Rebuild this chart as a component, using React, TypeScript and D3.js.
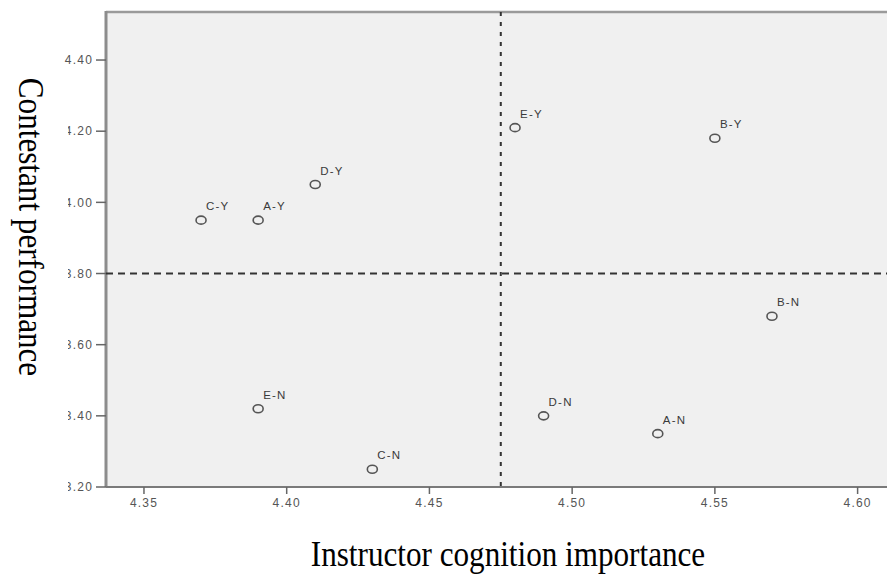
import React from 'react';
import * as d3 from 'd3';

const pointLabels = ['C-Y', 'A-Y', 'D-Y', 'E-Y', 'B-Y', 'B-N', 'E-N', 'C-N', 'D-N', 'A-N'];
const xValues = [4.37, 4.39, 4.41, 4.48, 4.55, 4.57, 4.39, 4.43, 4.49, 4.53];
const yValues = [3.95, 3.95, 4.05, 4.21, 4.18, 3.68, 3.42, 3.25, 3.40, 3.35];
const xTicks = [4.35, 4.40, 4.45, 4.50, 4.55, 4.60];
const yTicks = [3.20, 3.40, 3.60, 3.80, 4.00, 4.20, 4.40];
const refLineX = 4.475;
const refLineY = 3.80;
const xTitle = 'Instructor cognition importance';
const yTitle = 'Contestant performance';

const W = 887;
const H = 578;
const left = 106;
const right = 897;
const top = 12;
const bottom = 487;

export default function App() {
  const x = d3.scaleLinear().domain([4.3367, 4.6138]).range([left, right]);
  const y = d3.scaleLinear().domain([3.2, 4.535]).range([bottom, top]);
  const fmt = d3.format('.2f');
  const tickFont = { fontFamily: 'Arial, "Liberation Sans", sans-serif', fontSize: 12, letterSpacing: 1.2 };
  const titleFont = { fontFamily: '"Liberation Serif", "Times New Roman", serif', fontSize: 35 };

  return (
    <svg width={W} height={H} style={{ position: 'absolute', left: 0, top: 0, background: '#fff' }}>
      <rect x={0} y={0} width={W} height={H} fill="#fff" />
      {/* plot area */}
      <rect x={left} y={top} width={right - left} height={bottom - top} fill="#f0f0f0" stroke="none" />
      <line x1={left} x2={right} y1={top} y2={top} stroke="#9a9a9a" strokeWidth={2.5} />
      <line x1={left} x2={left} y1={top - 1} y2={bottom} stroke="#8c8c8c" strokeWidth={3} />
      <line x1={left} x2={right} y1={bottom} y2={bottom} stroke="#7a7a7a" strokeWidth={2} />

      {/* reference lines */}
      <line x1={x(refLineX)} x2={x(refLineX)} y1={top} y2={bottom} stroke="#333" strokeWidth={2} strokeDasharray="4,6" />
      <line x1={left} x2={right} y1={y(refLineY)} y2={y(refLineY)} stroke="#333" strokeWidth={1.8} strokeDasharray="7,5" />

      {/* y axis */}
      {yTicks.map((t) => (
        <g key={'y' + t}>
          <line x1={left - 10} x2={left} y1={y(t)} y2={y(t)} stroke="#666" strokeWidth={1.5} />
          <text x={93} y={y(t)} dy="0.35em" textAnchor="end" fill="#555" style={tickFont}>
            {fmt(t)}
          </text>
        </g>
      ))}

      {/* x axis */}
      {xTicks.map((t) => (
        <g key={'x' + t}>
          <line x1={x(t)} x2={x(t)} y1={bottom} y2={bottom + 7} stroke="#666" strokeWidth={1.5} />
          <text x={x(t)} y={bottom + 20} textAnchor="middle" fill="#555" style={tickFont}>
            {fmt(t)}
          </text>
        </g>
      ))}

      {/* points */}
      {pointLabels.map((lab, i) => (
        <g key={lab}>
          <ellipse cx={x(xValues[i])} cy={y(yValues[i])} rx={5} ry={4} fill="none" stroke="#555" strokeWidth={1.6} />
          <text x={x(xValues[i]) + 5} y={y(yValues[i]) - 10} fill="#3a3a3a" style={{ ...tickFont, fontSize: 11.5 }}>
            {lab}
          </text>
        </g>
      ))}

      {/* title box covering left labels */}
      <rect x={0} y={92} width={68} height={H - 92} fill="#fff" />

      <text
        transform={`translate(19, 227) rotate(90) scale(0.89, 1)`}
        textAnchor="middle"
        fill="#000"
        style={titleFont}
      >
        {yTitle}
      </text>
      <text
        transform={`translate(508, 566) scale(0.89, 1)`}
        textAnchor="middle"
        fill="#000"
        style={titleFont}
      >
        {xTitle}
      </text>
    </svg>
  );
}
